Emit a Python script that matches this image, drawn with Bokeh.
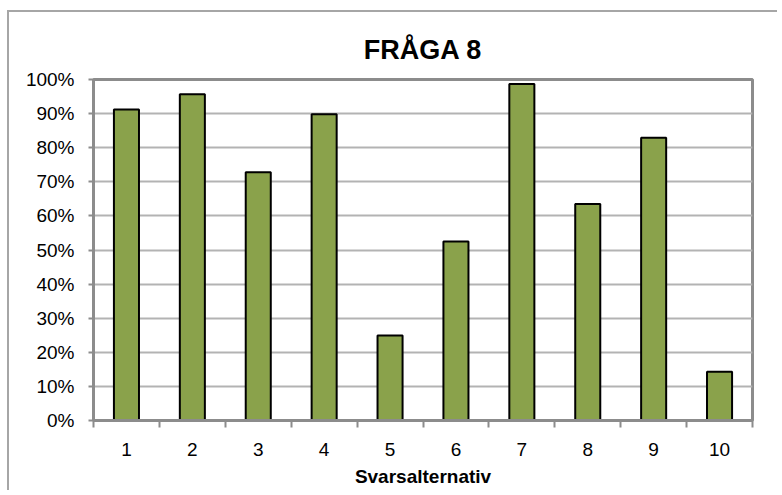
from bokeh.plotting import figure
from bokeh.models import FixedTicker, NumeralTickFormatter, Range1d, ColumnDataSource
from bokeh.embed import file_html
from bokeh.resources import INLINE

categories = ["1", "2", "3", "4", "5", "6", "7", "8", "9", "10"]
values = [0.912, 0.957, 0.728, 0.898, 0.249, 0.525, 0.987, 0.635, 0.829, 0.143]
y_ticks = [0.0, 0.1, 0.2, 0.3, 0.4, 0.5, 0.6, 0.7, 0.8, 0.9, 1.0]
title_text = "FRÅGA 8"
x_label = "Svarsalternativ"

xs = list(range(1, len(categories) + 1))
source = ColumnDataSource(dict(x=xs, top=values))

FONT = "Liberation Sans"
GRAY = "#8c8c8c"

p = figure(width=770, height=480, output_backend="svg", toolbar_location=None,
           x_range=Range1d(0.5, len(categories) + 0.5), y_range=Range1d(0, 1),
           min_border_left=84, min_border_right=27, min_border_top=67, min_border_bottom=72)
p.styles = {"border-left": "2px solid #a6a6a6", "border-top": "2px solid #a6a6a6",
            "margin-top": "10px", "margin-left": "7px"}

p.vbar(x="x", top="top", width=0.38, bottom=0, source=source,
       fill_color="#8aa24b", line_color="black", line_width=2)

p.title.text = title_text
p.title.align = "center"
p.title.text_font = FONT
p.title.text_font_size = "27px"
p.title.text_font_style = "bold"
p.title.text_color = "black"
p.title.padding = dict(left=0, right=0, top=0, bottom=10)

p.outline_line_color = GRAY
p.outline_line_width = 3
p.background_fill_color = "white"
p.border_fill_color = "white"

p.xgrid.visible = False
p.ygrid.ticker = FixedTicker(ticks=y_ticks)
p.ygrid.grid_line_color = "#b3b3b3"
p.ygrid.grid_line_width = 2

# y axis
p.yaxis.ticker = FixedTicker(ticks=y_ticks)
p.yaxis.formatter = NumeralTickFormatter(format="0%")
p.yaxis.axis_line_color = GRAY
p.yaxis.axis_line_width = 3
p.yaxis.major_tick_in = 0
p.yaxis.major_tick_out = 5
p.yaxis.major_tick_line_color = GRAY
p.yaxis.major_tick_line_width = 2
p.yaxis.minor_tick_line_color = None
p.yaxis.major_label_text_font = FONT
p.yaxis.major_label_text_font_size = "19px"
p.yaxis.major_label_text_color = "black"
p.yaxis.major_label_standoff = 14

# x axis
p.xaxis.ticker = FixedTicker(ticks=xs, minor_ticks=[x - 0.5 for x in xs] + [len(xs) + 0.5])
p.xaxis.major_label_overrides = {x: c for x, c in zip(xs, categories)}
p.xaxis.axis_line_color = GRAY
p.xaxis.axis_line_width = 3
p.xaxis.major_tick_in = 0
p.xaxis.major_tick_out = 0
p.xaxis.minor_tick_in = 0
p.xaxis.minor_tick_out = 7
p.xaxis.minor_tick_line_color = GRAY
p.xaxis.minor_tick_line_width = 2
p.xaxis.major_label_text_font = FONT
p.xaxis.major_label_text_font_size = "19px"
p.xaxis.major_label_text_color = "black"
p.xaxis.major_label_standoff = 15
p.xaxis.axis_label = x_label
p.xaxis.axis_label_text_font = FONT
p.xaxis.axis_label_text_font_size = "19px"
p.xaxis.axis_label_text_font_style = "bold"
p.xaxis.axis_label_text_color = "black"
p.xaxis.axis_label_standoff = 7

open("out.html", "w").write(file_html(p, INLINE))
